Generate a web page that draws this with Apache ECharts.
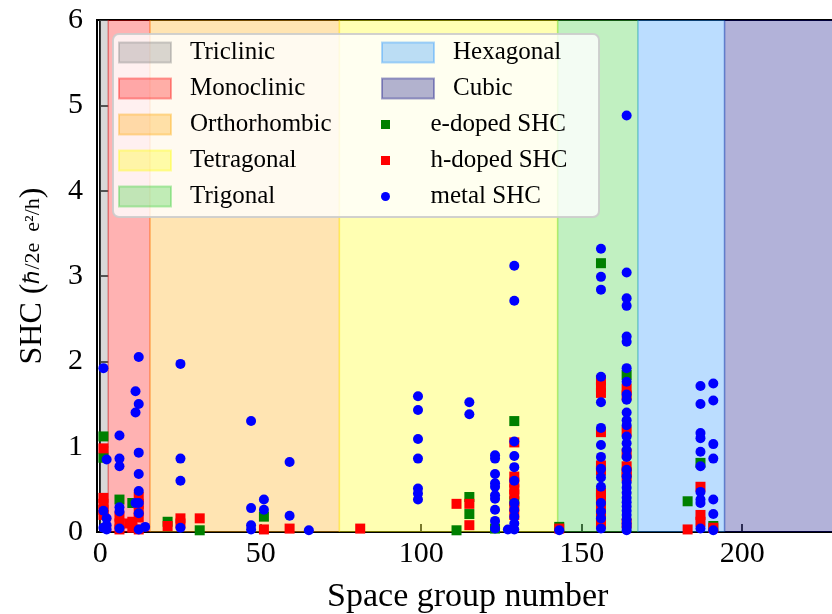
<!DOCTYPE html>
<html><head><meta charset="utf-8">
<script src="https://cdn.jsdelivr.net/npm/echarts@6/dist/echarts.min.js"></script>
<style>html,body{margin:0;padding:0;background:#fff}#c{width:832px;height:614px}</style>
</head><body><div id="c"></div>
<script>
// Crystal-system bands (space group ranges)
const bandNames  = ['Triclinic','Monoclinic','Orthorhombic','Tetragonal','Trigonal','Hexagonal','Cubic'];
const bandStart  = [0, 2.5, 15.5, 74.5, 142.5, 167.5, 194.5];
const bandEnd    = [2.5, 15.5, 74.5, 142.5, 167.5, 194.5, 230];
const bandRGB    = ['128,128,128','255,0,0','255,165,0','255,255,0','50,205,50','30,144,255','0,0,128'];

const xTickValues = [0, 50, 100, 150, 200];
const yTickValues = [0, 1, 2, 3, 4, 5, 6];

// [space group, SHC]
const eDoped = [
  [1,1.12],[1,0.87],[6,0.38],[10,0.34],[21,0.12],[31,0.02],[51,0.18],[111,0.02],
  [115,0.41],[115,0.21],[123,0.04],[129,1.30],[129,0.36],[143,0.06],[156,3.15],[156,0.44],
  [164,1.84],[183,0.36],[187,0.81],[191,0.07]
];
const hDoped = [
  [1,0.98],[1,0.40],[1,0.33],[1,0.26],[1,0.20],[6,0.18],[6,0.10],[6,0.03],[9,0.10],
  [10,0.12],[10,0.05],[12,0.41],[12,0.33],[12,0.25],[12,0.17],[12,0.03],[21,0.07],
  [25,0.16],[25,0.10],[31,0.16],[51,0.03],[59,0.04],[81,0.04],[111,0.33],[115,0.33],[115,0.08],
  [129,1.05],[129,0.65],[129,0.58],[129,0.50],[129,0.44],[129,0.30],[129,0.20],[143,0.04],
  [156,1.78],[156,1.70],[156,1.63],[156,1.17],[156,0.78],[156,0.72],[156,0.46],[156,0.40],
  [156,0.30],[156,0.20],[156,0.10],
  [164,1.68],[164,1.60],[164,1.18],[164,0.92],[164,0.77],[164,0.70],[164,0.65],[164,0.10],
  [183,0.03],[187,0.53],[187,0.20],[187,0.12],[191,0.05]
];
const metal = [
  [1,1.92],[1,0.25],[1,0.05],[2,0.85],[2,0.16],[2,0.08],[2,0.03],
  [6,1.13],[6,0.86],[6,0.77],[6,0.29],[6,0.24],[6,0.04],
  [11,1.65],[11,1.40],[11,0.34],
  [12,2.05],[12,1.50],[12,0.93],[12,0.68],[12,0.48],[12,0.34],[12,0.22],[12,0.03],[14,0.06],
  [25,1.97],[25,0.86],[25,0.60],[25,0.05],
  [47,1.30],[47,0.28],[47,0.08],[47,0.03],[51,0.38],[51,0.26],[59,0.82],[59,0.19],[65,0.02],
  [99,1.59],[99,1.43],[99,1.09],[99,0.86],[99,0.51],[99,0.45],[99,0.38],
  [115,1.52],[115,1.38],
  [123,0.90],[123,0.86],[123,0.68],[123,0.57],[123,0.53],[123,0.43],[123,0.39],[123,0.26],[123,0.13],[123,0.04],
  [127,0.03],
  [129,3.12],[129,2.71],[129,1.06],[129,0.89],[129,0.76],[129,0.60],[129,0.34],[129,0.26],[129,0.18],[129,0.10],[129,0.03],
  [143,0.02],
  [156,3.32],[156,2.99],[156,2.84],[156,1.82],[156,1.52],[156,1.22],[156,1.02],[156,0.88],[156,0.74],
  [156,0.64],[156,0.53],[156,0.34],[156,0.24],[156,0.16],[156,0.04],
  [164,4.88],[164,3.04],[164,2.74],[164,2.65],[164,2.29],[164,2.23],[164,1.92],[164,1.76],[164,1.61],
  [164,1.55],[164,1.40],[164,1.31],[164,1.25],[164,1.12],[164,1.04],[164,0.96],[164,0.88],[164,0.73],
  [164,0.65],[164,0.58],[164,0.52],[164,0.46],[164,0.40],[164,0.35],[164,0.30],[164,0.25],[164,0.20],
  [164,0.15],[164,0.10],[164,0.06],[164,0.02],
  [187,1.71],[187,1.50],[187,1.16],[187,1.10],[187,0.94],[187,0.77],[187,0.47],[187,0.38],[187,0.34],[187,0.04],
  [191,1.74],[191,1.54],[191,1.03],[191,0.86],[191,0.38],[191,0.21],[191,0.02]
];
const pointNames = ['e-doped SHC','h-doped SHC','metal SHC'];
const pointColors = ['#008000','#ff0000','#0000ff'];

const FONT = 'Liberation Serif';
const yMax = yTickValues[yTickValues.length-1];

const bandSeries = bandNames.map((n, i) => ({
  name: n, type: 'custom', z: 1, clip: true, silent: true,
  encode: {x: [0, 1]},
  data: [[bandStart[i], bandEnd[i]]],
  renderItem: (params, api) => {
    const p0 = api.coord([api.value(0), yMax]);
    const p1 = api.coord([api.value(1), 0]);
    return {type: 'rect', shape: {x: p0[0], y: p0[1], width: p1[0]-p0[0], height: p1[1]-p0[1]},
      style: {fill: 'rgba(' + bandRGB[i] + ',0.3)', stroke: 'rgba(' + bandRGB[i] + ',0.3)', lineWidth: 1.5}};
  }
}));

const square = 'path://M0,0L10,0L10,10L0,10Z';
const pointSeries = [eDoped, hDoped, metal].map((d, i) => ({
  name: pointNames[i], type: 'scatter', z: 3 + i, clip: true,
  symbol: i < 2 ? 'rect' : 'circle', symbolSize: 10,
  itemStyle: {color: pointColors[i], opacity: 1},
  data: d
}));

const legendText = {fontFamily: FONT, fontSize: 25, color: '#000', lineHeight: 20, padding: [0, 0, 0, 14]};
const chart = echarts.init(document.getElementById('c'), null, {renderer: 'canvas'});
chart.setOption({
  animation: false,
  backgroundColor: '#fff',
  grid: {left: 97, top: 20, bottom: 82, right: -6.5, containLabel: false, outerBoundsMode: 'none',
         show: true, borderColor: '#000', borderWidth: 2, backgroundColor: 'transparent'},
  xAxis: {
    type: 'value', min: -1, max: 230,
    name: 'Space group number', nameLocation: 'middle', nameGap: 48,
    nameTextStyle: {fontFamily: FONT, fontSize: 34, color: '#000'},
    axisLine: {show: true, lineStyle: {color: '#000', width: 2}},
    axisTick: {show: true, inside: true, length: 8, customValues: xTickValues, lineStyle: {color: '#000', width: 1.5}},
    axisLabel: {customValues: xTickValues, fontFamily: FONT, fontSize: 30, color: '#000', margin: 7},
    splitLine: {show: false}
  },
  yAxis: {
    type: 'value', min: 0, max: yMax, interval: 1,
    name: '{a|SHC (}{b|ℏ/2e  e²/h}{a|)}', nameLocation: 'middle', nameGap: 48, nameRotate: 90,
    nameTextStyle: {fontFamily: FONT, color: '#000', rich: {a: {fontFamily: FONT, fontSize: 32, color: '#000'}, b: {fontFamily: FONT, fontSize: 22, color: '#000'}}},
    axisLine: {show: true, lineStyle: {color: '#000', width: 2}},
    axisTick: {show: true, inside: true, length: 8, lineStyle: {color: '#000', width: 1.5}},
    axisLabel: {fontFamily: FONT, fontSize: 30, color: '#000', margin: 14},
    splitLine: {show: false}
  },
  graphic: [{
    type: 'rect', left: 112, top: 33, z: 10, silent: true,
    shape: {width: 486, height: 183, r: 6},
    style: {fill: 'rgba(255,255,255,0.8)', stroke: 'rgba(204,204,204,0.9)', lineWidth: 2}
  }],
  legend: [
    {left: 113, top: 35, orient: 'vertical', itemWidth: 52, itemHeight: 20, itemGap: 11, z: 12, selectedMode: false,
     textStyle: legendText,
     data: bandNames.slice(0, 5).map((n, i) => ({name: n, icon: 'rect',
       itemStyle: {color: 'rgba(' + bandRGB[i] + ',0.3)', borderColor: 'rgba(' + bandRGB[i] + ',0.35)', borderWidth: 2}}))},
    {left: 376, top: 35, orient: 'vertical', itemWidth: 52, itemHeight: 20, itemGap: 11, z: 12, selectedMode: false,
     textStyle: legendText,
     data: bandNames.slice(5).map((n, j) => ({name: n, icon: 'rect',
       itemStyle: {color: 'rgba(' + bandRGB[j+5] + ',0.3)', borderColor: 'rgba(' + bandRGB[j+5] + ',0.35)', borderWidth: 2}}))},
    {left: 376, top: 107, orient: 'vertical', itemWidth: 52, itemHeight: 9, itemGap: 11, z: 12, selectedMode: false,
     textStyle: legendText,
     data: pointNames.map((n, i) => ({name: n, icon: i < 2 ? square : 'circle', itemStyle: {color: pointColors[i]}}))}
  ],
  series: bandSeries.concat(pointSeries)
});
</script>
</body></html>
